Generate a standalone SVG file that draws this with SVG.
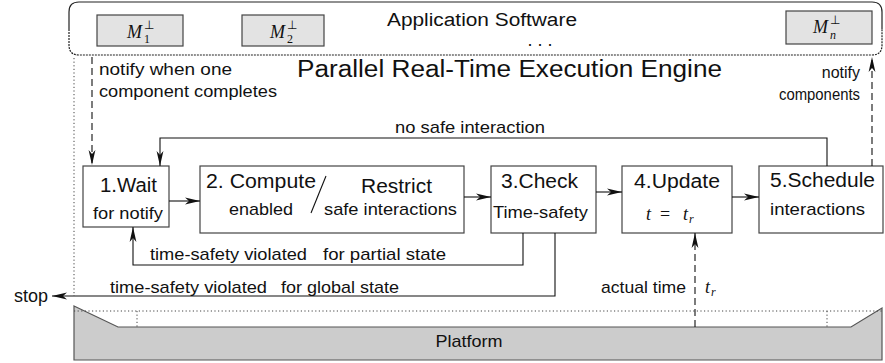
<svg xmlns="http://www.w3.org/2000/svg" width="885" height="363" viewBox="0 0 885 363">
<style>
text{font-family:"Liberation Sans",Arial,sans-serif;fill:#111}
.m{font-family:"Liberation Serif","Times New Roman",serif;font-style:italic}
.u{font-family:"Liberation Serif","Times New Roman",serif}
.box{fill:#fff;stroke:#444;stroke-width:1.2}
.mb{fill:#e3e3e3;stroke:#444;stroke-width:1.2}
.c{fill:none;stroke:#111;stroke-width:1.1}
.d{fill:none;stroke:#111;stroke-width:1.1;stroke-dasharray:7,4}
.dot{fill:none;stroke:#444;stroke-width:1;stroke-dasharray:1.2,2.4}
.t20{font-size:20px}
.t17{font-size:17px}
.t16{font-size:16px}
</style>
<defs>
<marker id="ah" viewBox="0 0 15 8" refX="15" refY="4" markerWidth="15" markerHeight="8" orient="auto" markerUnits="userSpaceOnUse">
<path d="M0,0.6 L15,4 L0,7.4 L4,4 z" fill="#111"/>
</marker>
</defs>

<g id="app">
<path d="M69,29 L69,12 Q69,2 79,2 L872,2 Q882,2 882,12 L882,29" fill="none" stroke="#222" stroke-width="1.2"/>
<path d="M69,29 L69,45 Q69,55 79,55 L872,55 Q882,55 882,45 L882,29" fill="none" stroke="#222" stroke-width="1.2" stroke-dasharray="2,1"/>
<text x="482" y="26" text-anchor="middle" font-size="18" textLength="190" lengthAdjust="spacingAndGlyphs">Application Software</text>
<text x="540" y="46" text-anchor="middle" font-size="18">. . .</text>
</g>

<g id="m1">
<rect class="mb" x="97" y="15" width="86" height="31"/>
<text class="m" x="127" y="38" font-size="18">M</text>
<text class="u" x="144" y="29" font-size="12">⊥</text>
<text class="u" x="144" y="43" font-size="12">1</text>
</g>
<g id="m2">
<rect class="mb" x="242" y="15" width="82" height="31"/>
<text class="m" x="270" y="38" font-size="18">M</text>
<text class="u" x="287" y="29" font-size="12">⊥</text>
<text class="u" x="287" y="43" font-size="12">2</text>
</g>
<g id="mn">
<rect class="mb" x="786" y="11" width="86" height="33"/>
<text class="m" x="813" y="33" font-size="18">M</text>
<text class="u" x="830" y="24" font-size="12">⊥</text>
<text class="m" x="830" y="39" font-size="12">n</text>
</g>

<g id="engine">
<line class="dot" x1="74" y1="58" x2="74" y2="296"/>
<text x="297" y="77" font-size="23" textLength="425" lengthAdjust="spacingAndGlyphs">Parallel Real-Time Execution Engine</text>
<text class="t16" x="99" y="75" textLength="133" lengthAdjust="spacingAndGlyphs">notify  when one</text>
<text class="t16" x="99" y="97" textLength="178" lengthAdjust="spacingAndGlyphs">component completes</text>
<text class="t16" x="860" y="78" text-anchor="end">notify</text>
<text class="t16" x="860" y="100" text-anchor="end" textLength="81" lengthAdjust="spacingAndGlyphs">components</text>
</g>

<g id="wait">
<rect class="box" x="83" y="166" width="86" height="61"/>
<text class="t20" x="100" y="192" textLength="57" lengthAdjust="spacingAndGlyphs">1.Wait</text>
<text class="t17" x="93" y="219" textLength="70" lengthAdjust="spacingAndGlyphs">for notify</text>
</g>

<g id="compute">
<rect class="box" x="200" y="166" width="264" height="67"/>
<text class="t20" x="206" y="188" textLength="110" lengthAdjust="spacingAndGlyphs">2. Compute</text>
<text class="t17" x="229" y="215" textLength="64" lengthAdjust="spacingAndGlyphs">enabled</text>
<line x1="326" y1="176" x2="311" y2="213" stroke="#111" stroke-width="1.1"/>
<text class="t20" x="361" y="193" textLength="71" lengthAdjust="spacingAndGlyphs">Restrict</text>
<text class="t17" x="324" y="215" textLength="133" lengthAdjust="spacingAndGlyphs">safe interactions</text>
</g>

<g id="check">
<rect class="box" x="491" y="166" width="105" height="67"/>
<text class="t20" x="501" y="188" textLength="77" lengthAdjust="spacingAndGlyphs">3.Check</text>
<text class="t17" x="493" y="218" textLength="95" lengthAdjust="spacingAndGlyphs">Time-safety</text>
</g>

<g id="update">
<rect class="box" x="622" y="166" width="110" height="67"/>
<text class="t20" x="634" y="188" textLength="86" lengthAdjust="spacingAndGlyphs">4.Update</text>
<text class="m" x="646" y="220" font-size="18">t</text>
<text class="u" x="660" y="220" font-size="18">=</text>
<text class="m" x="683" y="220" font-size="18">t</text>
<text class="m" x="689" y="223" font-size="12">r</text>
</g>

<g id="schedule">
<rect class="box" x="759" y="166" width="124" height="67"/>
<text class="t20" x="770" y="187" textLength="105" lengthAdjust="spacingAndGlyphs">5.Schedule</text>
<text class="t17" x="770" y="215" textLength="95" lengthAdjust="spacingAndGlyphs">interactions</text>
</g>

<g id="platform">
<path d="M74,306 L118,327 L851,327 L882,308 L882,360 L74,360 Z" fill="#cccccc" stroke="#555" stroke-width="1.2"/>
<line class="dot" x1="74" y1="311" x2="882" y2="311"/>
<line class="dot" x1="137" y1="311" x2="137" y2="327"/>
<line class="dot" x1="827" y1="311" x2="827" y2="327"/>
<text x="469" y="347" text-anchor="middle" font-size="17" textLength="67" lengthAdjust="spacingAndGlyphs">Platform</text>
</g>

<g id="connectors">
<line class="c" x1="169" y1="201" x2="200" y2="201" marker-end="url(#ah)"/>
<line class="c" x1="464" y1="197" x2="491" y2="197" marker-end="url(#ah)"/>
<line class="c" x1="596" y1="192" x2="622" y2="192" marker-end="url(#ah)"/>
<line class="c" x1="732" y1="197" x2="759" y2="197" marker-end="url(#ah)"/>
<polyline class="c" points="827,166 827,138 160,138 160,166" marker-end="url(#ah)"/>
<polyline class="c" points="523,233 523,265 133,265 133,227" marker-end="url(#ah)"/>
<polyline class="c" points="555,233 555,296 52,296" marker-end="url(#ah)"/>
<line class="d" x1="92" y1="57" x2="92" y2="165" marker-end="url(#ah)"/>
<line class="d" x1="872" y1="166" x2="872" y2="57" marker-end="url(#ah)"/>
<line class="d" x1="695" y1="327" x2="695" y2="233" marker-end="url(#ah)"/>
<text class="t17" x="395" y="133" textLength="150" lengthAdjust="spacingAndGlyphs">no safe interaction</text>
<text class="t17" x="150" y="260" textLength="157" lengthAdjust="spacingAndGlyphs">time-safety violated</text>
<text class="t17" x="323" y="260" textLength="123" lengthAdjust="spacingAndGlyphs">for partial state</text>
<text class="t17" x="110" y="293" textLength="157" lengthAdjust="spacingAndGlyphs">time-safety violated</text>
<text class="t17" x="281" y="293" textLength="118" lengthAdjust="spacingAndGlyphs">for global state</text>
<text x="48" y="302" text-anchor="end" font-size="18">stop</text>
<text class="t17" x="601" y="293" textLength="85" lengthAdjust="spacingAndGlyphs">actual time</text>
<text class="m" x="705" y="293" font-size="18">t</text>
<text class="m" x="711" y="296" font-size="12">r</text>
</g>
</svg>
